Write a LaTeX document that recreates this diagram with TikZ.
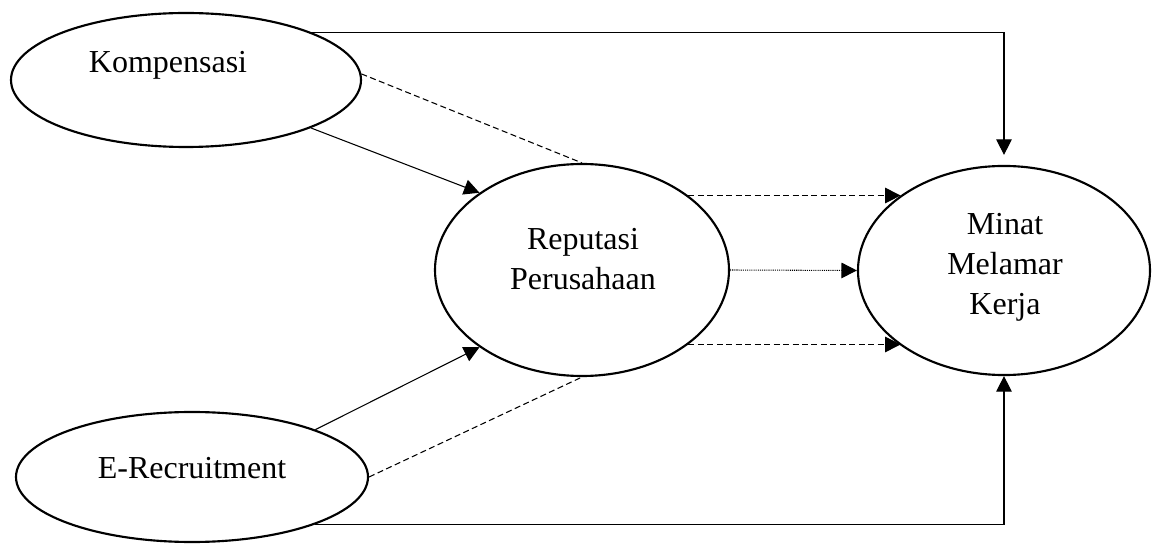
\documentclass[tikz,border=0pt]{standalone}
\usepackage{fontspec}
\setmainfont{Liberation Serif}
\usetikzlibrary{shapes.geometric,arrows.meta}
\tikzset{
  var/.style={draw, ellipse, line width=0.8pt, inner sep=0pt},
  lbl/.style={align=center, anchor=base, inner sep=0pt, font=\fontsize{12pt}{15pt}\selectfont},
  conn/.style={line width=0.4pt},
  tip/.style={-{Triangle[length=5.8pt,width=5.8pt]}},
  dsh/.style={dash pattern=on 2.25pt off 1.3pt},
  dtt/.style={dash pattern=on 0.4pt off 0.4pt}
}
\begin{document}
\begin{tikzpicture}[x=0.375pt,y=-0.375pt]
\useasboundingbox (0,0) rectangle (1155,545);
% ellipses
\node[var, minimum width=131.25pt, minimum height=50.25pt] (k) at (186,80) {};
\node[var, minimum width=132pt, minimum height=48.75pt] (e) at (192,477) {};
\node[var, minimum width=110.25pt, minimum height=79.5pt] (r) at (582,270) {};
\node[var, minimum width=109.5pt, minimum height=78.4pt] (m) at (1004,270.5) {};
% labels (base anchor = baseline of the last line)
\node[lbl] (kt) at (168,73) {Kompensasi};
\node[lbl] (et) at (192,479) {E-Recruitment};
\node[lbl] (rt) at (583,289) {Reputasi\\Perusahaan};
\node[lbl] (mt) at (1005,315) {Minat\\Melamar\\Kerja};
% connectors
\draw[conn,tip,shorten >=3.75pt] (k.21) -| (m.north);
\draw[conn,tip] (e.-21) -| (m.south);
\draw[conn,tip] (k.-21) -- (r.143);
\draw[conn,tip] (e.21) -- (r.217);
\draw[conn,dsh] (k.2) -- (r.north);
\draw[conn,dsh] (e.east) -- (r.south);
\draw[conn,dsh,tip] (r.35) -- (m.144 |- r.35);
\draw[conn,dsh,tip] (r.-35) -- (m.-144 |- r.-35);
\draw[conn,dtt,tip] (r.east) -- (m.west);
\end{tikzpicture}
\end{document}
